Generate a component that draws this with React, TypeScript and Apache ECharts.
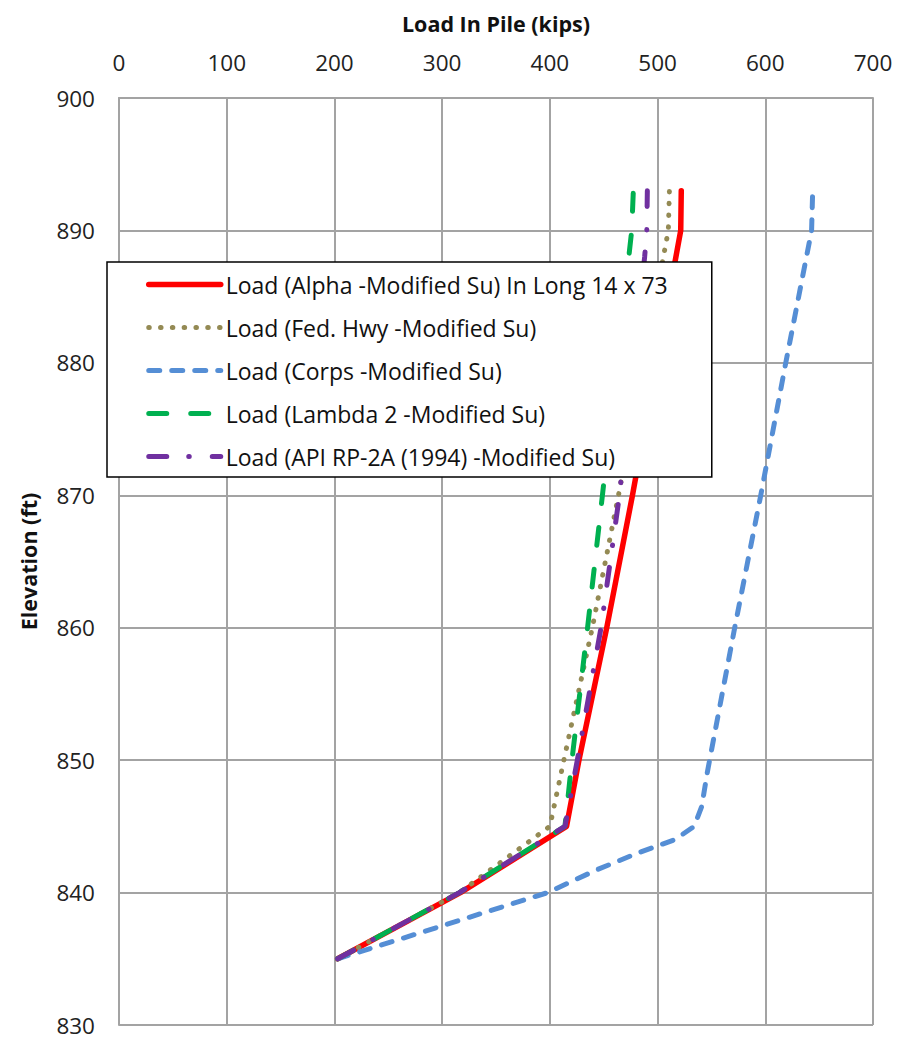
import React, { useEffect, useRef } from "react";
import * as echarts from "echarts";

// Pile load (kips) vs elevation (ft) for each capacity method
const alphaElev = [835, 840, 845, 850, 860, 870, 890, 893];
const alphaLoad = [203, 317, 415.5, 427, 452.8, 476.7, 521.5, 522];

const fedHwyElev = [835, 840, 845, 850, 860, 870, 890, 893];
const fedHwyLoad = [203, 316, 400, 413, 439.4, 463.7, 510, 511];

const corpsElev = [835, 840, 841.7, 843, 844, 845, 846.5, 849, 860, 870, 880, 890, 893];
const corpsLoad = [203, 398, 443, 482, 516, 534, 541, 546, 571.6, 595.8, 619, 643, 644];

const lambdaElev = [835, 840, 845, 850, 860, 870, 890, 893];
const lambdaLoad = [203, 316, 414, 420.5, 435, 448.8, 476, 477.5];

const apiElev = [835, 840, 845, 850, 860, 870, 888, 890, 893];
const apiLoad = [203, 316, 414, 425.5, 447.5, 464.6, 488, 490, 490.5];

const seriesNames = [
  "Load (Alpha -Modified Su) In Long 14 x 73",
  "Load (Fed. Hwy -Modified Su)",
  "Load (Corps -Modified Su)",
  "Load (Lambda 2 -Modified Su)",
  "Load (API RP-2A (1994) -Modified Su)",
];

const loadTicks = [0, 700, 100];
const elevTicks = [830, 900, 10];

const FONT = "'Open Sans', 'Noto Sans', sans-serif";
const GRID_COLOR = "#a3a3a3";

function pairs(loads: number[], elevs: number[]) {
  return loads.map((v, i) => [v, elevs[i]]);
}

export default function App() {
  const ref = useRef<HTMLDivElement>(null);

  useEffect(() => {
    if (!ref.current) return;
    const chart = echarts.init(ref.current, undefined, { renderer: "svg" });

    const lineSeries = (
      name: string,
      data: number[][],
      color: string,
      width: number,
      type: any,
    ) => ({
      name,
      type: "line",
      data,
      symbol: "none",
      showSymbol: false,
      color,
      lineStyle: { color, width, type, cap: "round", join: "round" },
    });

    chart.setOption({
      animation: false,
      backgroundColor: "#ffffff",
      textStyle: { fontFamily: FONT },
      grid: { left: 119, right: 24, top: 98, bottom: 15, containLabel: false },
      legend: {
        orient: "vertical",
        left: 107,
        top: 262,
        backgroundColor: "#ffffff",
        borderColor: "#000000",
        borderWidth: 1.5,
        borderRadius: 0,
        padding: [11, 44, 9, 39],
        itemWidth: 72,
        itemHeight: 1,
        itemGap: 20,
        itemStyle: { opacity: 0 },
        lineStyle: { width: "inherit", type: "inherit", cap: "round" },
        textStyle: { fontFamily: FONT, fontSize: 23, color: "#111111" },
        data: seriesNames,
      },
      xAxis: {
        type: "value",
        position: "top",
        min: loadTicks[0],
        max: loadTicks[1],
        interval: loadTicks[2],
        name: "Load In Pile (kips)",
        nameLocation: "middle",
        nameGap: 64,
        nameTextStyle: { fontFamily: FONT, fontSize: 21.5, fontWeight: "bold", color: "#111111" },
        axisLine: { show: true, lineStyle: { color: GRID_COLOR, width: 2 } },
        axisTick: { show: false },
        axisLabel: { fontFamily: FONT, fontSize: 22.5, color: "#222222", margin: 24 },
        splitLine: { show: true, lineStyle: { color: GRID_COLOR, width: 2 } },
      },
      yAxis: {
        type: "value",
        min: elevTicks[0],
        max: elevTicks[1],
        interval: elevTicks[2],
        name: "Elevation (ft)",
        nameLocation: "middle",
        nameGap: 80,
        nameTextStyle: { fontFamily: FONT, fontSize: 21.5, fontWeight: "bold", color: "#111111" },
        axisLine: { show: true, lineStyle: { color: GRID_COLOR, width: 2 } },
        axisTick: { show: false },
        axisLabel: { fontFamily: FONT, fontSize: 22.5, color: "#222222", margin: 24 },
        splitLine: { show: true, lineStyle: { color: GRID_COLOR, width: 2 } },
      },
      series: [
        lineSeries(seriesNames[0], pairs(alphaLoad, alphaElev), "#ff0000", 5.5, "solid"),
        lineSeries(seriesNames[1], pairs(fedHwyLoad, fedHwyElev), "#948a54", 5, [0.5, 11.3]),
        lineSeries(seriesNames[2], pairs(corpsLoad, corpsElev), "#558ed5", 5, [11, 12]),
        lineSeries(seriesNames[3], pairs(lambdaLoad, lambdaElev), "#00b050", 5, [18, 24]),
        lineSeries(seriesNames[4], pairs(apiLoad, apiElev), "#7030a0", 5, [18, 22, 0.5, 23]),
      ],
    });

    return () => chart.dispose();
  }, []);

  return (
    <div
      ref={ref}
      style={{ position: "absolute", left: 0, top: 0, width: 897, height: 1040 }}
    />
  );
}
